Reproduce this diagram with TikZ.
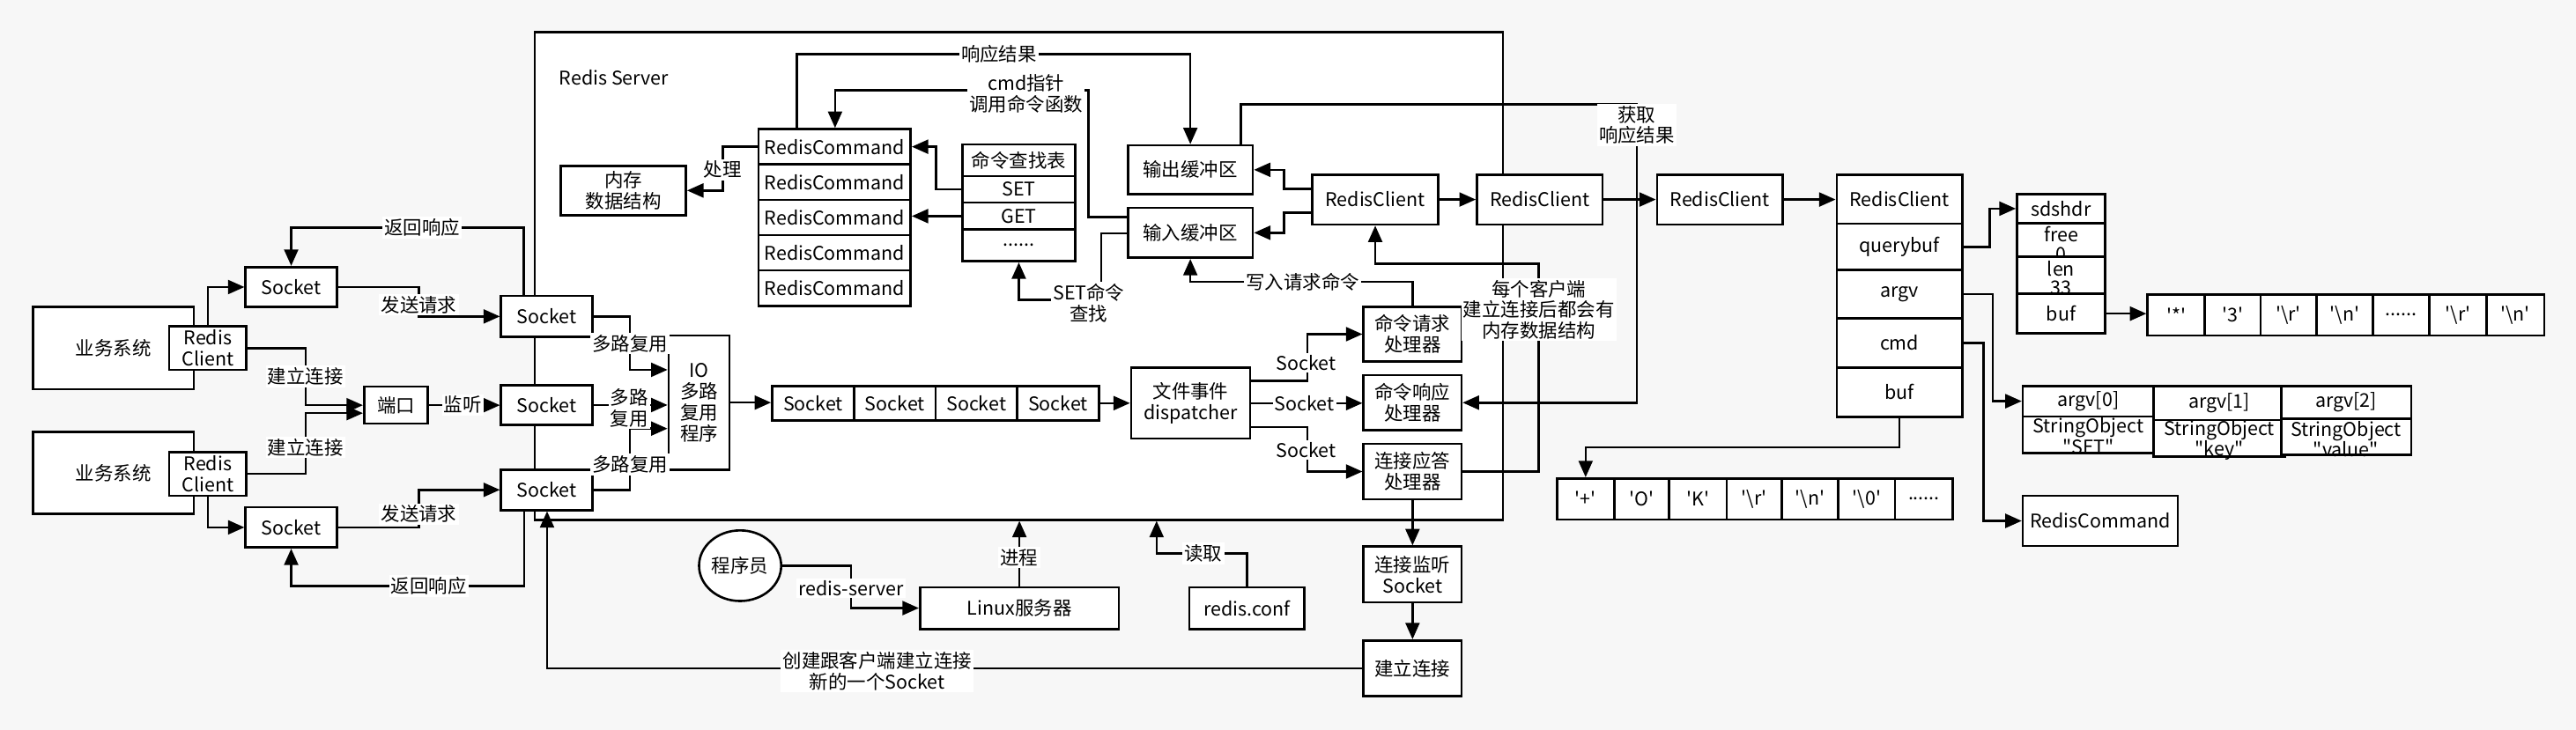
\documentclass[tikz,border=0pt]{standalone}
\usepackage{fontspec}
\setmainfont{Noto Sans CJK SC}
\usetikzlibrary{arrows.meta,shapes.geometric}
\definecolor{bgc}{RGB}{247,247,247}
\newcommand\sq{\textquotesingle}
\newcommand\dq{\textquotedbl}
\newcommand\bx[6]{\pgfmathsetmacro\bxw{#4-#2}\pgfmathsetmacro\bxh{#5-#3}%
  \node[box,minimum width=\bxw pt,minimum height=\bxh pt] (#1) at ({(#2+#4)/2},{(#3+#5)/2}) {#6};}
\tikzset{
  box/.style={draw,fill=white,line width=1.4pt,inner sep=0pt,align=center},
  arr/.style={line width=1.4pt,-{Triangle[length=10pt,width=8.5pt]}},
  lbl/.style={fill=white,inner sep=1.2pt,align=center},
  txt/.style={inner sep=0pt,align=center},
}
\begin{document}
\begin{tikzpicture}[x=1pt,y=-1pt,font=\fontsize{11.5}{12.8}\selectfont]
\fill[bgc] (0,0) rectangle (1568,444.5);
\useasboundingbox (0,0) rectangle (1568,444.5);
% server frame
\bx{frame}{325.6}{19.7}{914.8}{316.5}{}
\node[txt] (srvl) at (373.7,47.4) {Redis Server};
% clients
\bx{biz1}{20}{187}{118}{237}{业务系统}
\bx{rc1}{103}{198.8}{150}{225.2}{Redis\\Client}
\bx{biz2}{20}{263}{118}{313}{业务系统}
\bx{rc2}{103}{275.2}{150}{302}{Redis\\Client}
\bx{cs1}{149.5}{162.6}{205}{187}{Socket}
\bx{cs2}{149.5}{308.9}{205}{333.4}{Socket}
\bx{port}{221.6}{235.5}{260.5}{258}{端口}
\bx{ss1}{305}{180.2}{360.5}{205.2}{Socket}
\bx{ss2}{305}{234.5}{360.5}{258.8}{Socket}
\bx{ss3}{305}{286}{360.5}{310.6}{Socket}
\bx{io}{407}{204.3}{444}{286}{IO\\多路\\复用\\程序}
\bx{q1}{470}{235}{520}{256}{Socket}
\bx{q2}{520}{235}{569.5}{256}{Socket}
\bx{q3}{569.5}{235}{619}{256}{Socket}
\bx{q4}{619}{235}{669}{256}{Socket}
\bx{disp}{688.5}{224}{761}{267}{文件事件\\dispatcher}
\bx{hreq}{830}{186.8}{889.6}{220.2}{命令请求\\处理器}
\bx{hresp}{830}{228.4}{889.6}{262}{命令响应\\处理器}
\bx{hconn}{830}{270.3}{889.6}{304}{连接应答\\处理器}
\bx{lsock}{830}{332.8}{889.6}{366.8}{连接监听\\Socket}
\bx{est}{830}{390}{889.6}{424}{建立连接}
\node[draw,fill=white,line width=1.4pt,ellipse,minimum width=50pt,minimum height=43pt,inner sep=0pt] (prog) at (450.5,344.5) {程序员};
\bx{linux}{560}{357.6}{681}{383}{Linux服务器}
\bx{conf}{724}{357.6}{794}{383}{redis.conf}
\bx{mem}{341.4}{101}{417.5}{131}{内存\\数据结构}
\bx{rcmd1}{461.8}{78.6}{554.3}{100.1}{RedisCommand}
\bx{rcmd2}{461.8}{100.1}{554.3}{121.7}{RedisCommand}
\bx{rcmd3}{461.8}{121.7}{554.3}{143.2}{RedisCommand}
\bx{rcmd4}{461.8}{143.2}{554.3}{164.7}{RedisCommand}
\bx{rcmd5}{461.8}{164.7}{554.3}{186.2}{RedisCommand}
\bx{tt}{585.7}{87.9}{654.6}{107.3}{命令查找表}
\bx{tset}{585.7}{107.3}{654.6}{123.4}{SET}
\bx{tget}{585.7}{123.4}{654.6}{139.8}{GET}
\bx{tdots}{585.7}{139.8}{654.6}{159.1}{......}
\bx{outb}{686.5}{88.5}{762.6}{118.3}{输出缓冲区}
\bx{inb}{686.5}{126.5}{762.6}{157}{输入缓冲区}
\bx{rca}{798.8}{106.3}{875.4}{136.7}{RedisClient}
\bx{rcb}{899}{106.3}{975.5}{136.7}{RedisClient}
\bx{rcc}{1008.6}{106.3}{1085.2}{136.7}{RedisClient}
% big client struct
\bx{bh}{1118}{106.3}{1194.4}{136.2}{RedisClient}
\bx{bq}{1118}{136.2}{1194.4}{164.4}{querybuf}
\bx{bargv}{1118}{164.4}{1194.4}{193.9}{argv}
\bx{bcmd}{1118}{193.9}{1194.4}{223.8}{cmd}
\bx{bbuf}{1118}{223.8}{1194.4}{253.8}{buf}
% sdshdr
\bx{sh}{1227.7}{118.3}{1281.4}{135.8}{sdshdr}
\bx{sf}{1227.7}{135.8}{1281.4}{156.4}{}
\node[txt,font=\fontsize{11.5}{12}\selectfont] (sft) at (1254.55,148.6) {free\\0};
\bx{sl}{1227.7}{156.4}{1281.4}{179}{}
\node[txt,font=\fontsize{11.5}{11.6}\selectfont] (slt) at (1254.55,169.2) {len\\33};
\bx{sb}{1227.7}{179}{1281.4}{203}{buf}
% byte rows
\bx{b1}{947.7}{291.3}{982.6}{316.4}{\sq+\sq}
\bx{b2}{982.6}{291.3}{1016}{316.4}{\sq O\sq}
\bx{b3}{1016}{291.3}{1051}{316.4}{\sq K\sq}
\bx{b4}{1051}{291.3}{1084.6}{316.4}{\sq\textbackslash r\sq}
\bx{b5}{1084.6}{291.3}{1119}{316.4}{\sq\textbackslash n\sq}
\bx{b6}{1119}{291.3}{1153.5}{316.4}{\sq\textbackslash 0\sq}
\bx{b7}{1153.5}{291.3}{1188.7}{316.4}{......}
\bx{c1}{1307.2}{179.3}{1342}{204.3}{\sq*\sq}
\bx{c2}{1342}{179.3}{1375.9}{204.3}{\sq 3\sq}
\bx{c3}{1375.9}{179.3}{1410}{204.3}{\sq\textbackslash r\sq}
\bx{c4}{1410}{179.3}{1444.4}{204.3}{\sq\textbackslash n\sq}
\bx{c5}{1444.4}{179.3}{1478.8}{204.3}{......}
\bx{c6}{1478.8}{179.3}{1513.5}{204.3}{\sq\textbackslash r\sq}
\bx{c7}{1513.5}{179.3}{1548.7}{204.3}{\sq\textbackslash n\sq}
% argv objects
\bx{a0t}{1231.3}{235}{1310.9}{253.6}{argv[0]}
\bx{a0b}{1231.3}{253.6}{1310.9}{275.8}{}
\node[txt,font=\fontsize{11.5}{11.6}\selectfont] (a0x) at (1271.1,265.5) {StringObject\\\dq SET\dq};
\bx{a1t}{1310.9}{235}{1390.9}{255.7}{argv[1]}
\bx{a1b}{1310.9}{255.7}{1390.9}{278}{}
\node[txt,font=\fontsize{11.5}{12.5}\selectfont] (a1x) at (1350.9,268) {StringObject\\\dq key\dq};
\bx{a2t}{1388.5}{235}{1467.6}{255}{argv[2]}
\bx{a2b}{1388.5}{255}{1467.6}{277}{}
\node[txt,font=\fontsize{11.5}{12.5}\selectfont] (a2x) at (1428,267.5) {StringObject\\\dq value\dq};
\bx{rcr}{1231.3}{302}{1325.6}{332.4}{RedisCommand}
% ---------- connectors
\draw[arr] (rc1.north) |- (cs1.west);
\draw[arr] (rc2.south) |- (cs2.west);
\draw[arr] (cs1.east) -- (255,0 |- cs1.east) -- (255,0 |- ss1.west) -- (ss1.west);
\draw[arr] (cs2.east) -- (255,0 |- cs2.east) -- (255,0 |- ss3.west) -- (ss3.west);
\draw[arr] (318.7,0 |- ss1.north) -- (318.7,138.5) -- (177.25,138.5) -- (cs1.north);
\draw[arr] (319,0 |- ss3.south) -- (319,357) -- (177.25,357) -- (cs2.south);
\draw[arr] (rc1.east) -- (186,0 |- rc1.east) -- (186,0 |- port.west) -- (port.west);
\draw[arr] (rc2.east) -- (186,0 |- rc2.east) -- (186,251.6) -- (port.west |- 0,251.6);
\draw[arr] (port.east) -- (ss2.west |- port.east);
\draw[arr] (ss1.east) -- (383.5,0 |- ss1.east) -- (383.5,225.2) -- (io.west |- 0,225.2);
\draw[arr] (ss2.east) -- (io.west |- ss2.east);
\draw[arr] (ss3.east) -- (383.5,0 |- ss3.east) -- (383.5,261) -- (io.west |- 0,261);
\draw[arr] (io.east) -- (q1.west |- io.east);
\draw[arr] (q4.east) -- (disp.west |- q4.east);
\draw[arr] (disp.east |- 0,231.8) -- (795.7,231.8) -- (795.7,0 |- hreq.west) -- (hreq.west);
\draw[arr] (disp.east) -- (hresp.west |- disp.east);
\draw[arr] (disp.east |- 0,260) -- (795.7,260) -- (795.7,0 |- hconn.west) -- (hconn.west);
\draw[arr] (hconn.south) -- (lsock.north);
\draw[arr] (lsock.south) -- (est.north);
\draw[arr] (est.west) -- (333,0 |- est.west) -- (333,0 |- ss3.south);
\draw[arr] (prog.east) -- (518,0 |- prog.east) -- (518,0 |- linux.west) -- (linux.west);
\draw[arr] (linux.north) -- (linux.north |- frame.south);
\draw[arr] (conf.north) -- (conf.north |- 0,337) -- (704,337) -- (704,0 |- frame.south);
\draw[arr] (rcmd1.west) -- (439.9,0 |- rcmd1.west) -- (439.9,0 |- mem.east) -- (mem.east);
\draw[arr] (tset.west) -- (569.9,0 |- tset.west) -- (569.9,0 |- rcmd1.east) -- (rcmd1.east);
\draw[arr] (tget.west) -- (rcmd3.east |- tget.west);
\draw[arr] (485,0 |- rcmd1.north) -- (485,33.1) -- (outb.north |- 0,33.1) -- (outb.north);
\draw[arr] (inb.west |- 0,132.3) -- (662.6,132.3) -- (662.6,55) -- (508.3,55) -- (508.3,0 |- rcmd1.north);
\draw[arr] (inb.west |- 0,142.1) -- (670.3,142.1) -- (670.3,182.7) -- (620.15,182.7) -- (tdots.south);
\draw[arr] (rca.west |- 0,115) -- (781.6,115) -- (781.6,0 |- outb.east) -- (outb.east);
\draw[arr] (rca.west |- 0,129.6) -- (781.6,129.6) -- (781.6,0 |- inb.east) -- (inb.east);
\draw[arr] (rca.east) -- (rcb.west);
\draw[arr] (rcb.east) -- (rcc.west);
\draw[arr] (rcc.east) -- (bh.west |- rcc.east);
\draw[arr] (755.2,0 |- outb.north) -- (755.2,63.5) -- (996.3,63.5) -- (996.3,0 |- hresp.east) -- (hresp.east);
\draw[arr] (hreq.north) -- (hreq.north |- 0,171.6) -- (inb.south |- 0,171.6) -- (inb.south);
\draw[arr] (hconn.east) -- (936.7,0 |- hconn.east) -- (936.7,160.5) -- (rca.south |- 0,160.5) -- (rca.south);
\draw[arr] (bq.east) -- (1211,0 |- bq.east) -- (1211,0 |- sh.west) -- (sh.west);
\draw[arr] (bargv.east) -- (1213,0 |- bargv.east) -- (1213,0 |- a0t.west) -- (a0t.west);
\draw[arr] (bcmd.east) -- (1207.3,0 |- bcmd.east) -- (1207.3,0 |- rcr.west) -- (rcr.west);
\draw[arr] (bbuf.south) -- (bbuf.south |- 0,272.5) -- (b1.north |- 0,272.5) -- (b1.north);
\draw[arr] (sb.east) -- (c1.west |- sb.east);
% ---------- labels
\node[lbl] (t1) at (257,138.5) {返回响应};
\node[lbl] (t2) at (255,185.5) {发送请求};
\node[lbl] (t3) at (186,229.3) {建立连接};
\node[lbl] (t4) at (186,272.5) {建立连接};
\node[lbl] (t5) at (281.7,246.5) {监听};
\node[lbl] (t6) at (255,313) {发送请求};
\node[lbl] (t7) at (261,357) {返回响应};
\node[lbl] (t8) at (383.5,209.1) {多路复用};
\node[lbl] (t9) at (383,248.4) {多路\\复用};
\node[lbl] (t10) at (383.5,282.8) {多路复用};
\node[lbl] (t11) at (795,221) {Socket};
\node[lbl] (t12) at (794,245.4) {Socket};
\node[lbl] (t13) at (795,274) {Socket};
\node[lbl] (t14) at (534,408.6) {创建跟客户端建立连接\\新的一个Socket};
\node[lbl] (t15) at (518,358.3) {redis-server};
\node[lbl] (t16) at (620.4,339.6) {进程};
\node[lbl] (t17) at (732.5,337) {读取};
\node[lbl] (t18) at (439.9,103.3) {处理};
\node[lbl] (t19) at (608.1,33.1) {响应结果};
\node[lbl] (t20) at (624.6,57) {cmd指针\\调用命令函数};
\node[lbl] (t21) at (662.7,184.5) {SET命令\\查找};
\node[lbl] (t22) at (793,171.6) {写入请求命令};
\node[lbl,font=\fontsize{11.5}{12.5}\selectfont] (t23) at (936.7,188.6) {每个客户端\\建立连接后都会有\\内存数据结构};
\node[lbl,font=\fontsize{11.5}{12.5}\selectfont] (t24) at (996.3,76) {获取\\响应结果};
\end{tikzpicture}
\end{document}
